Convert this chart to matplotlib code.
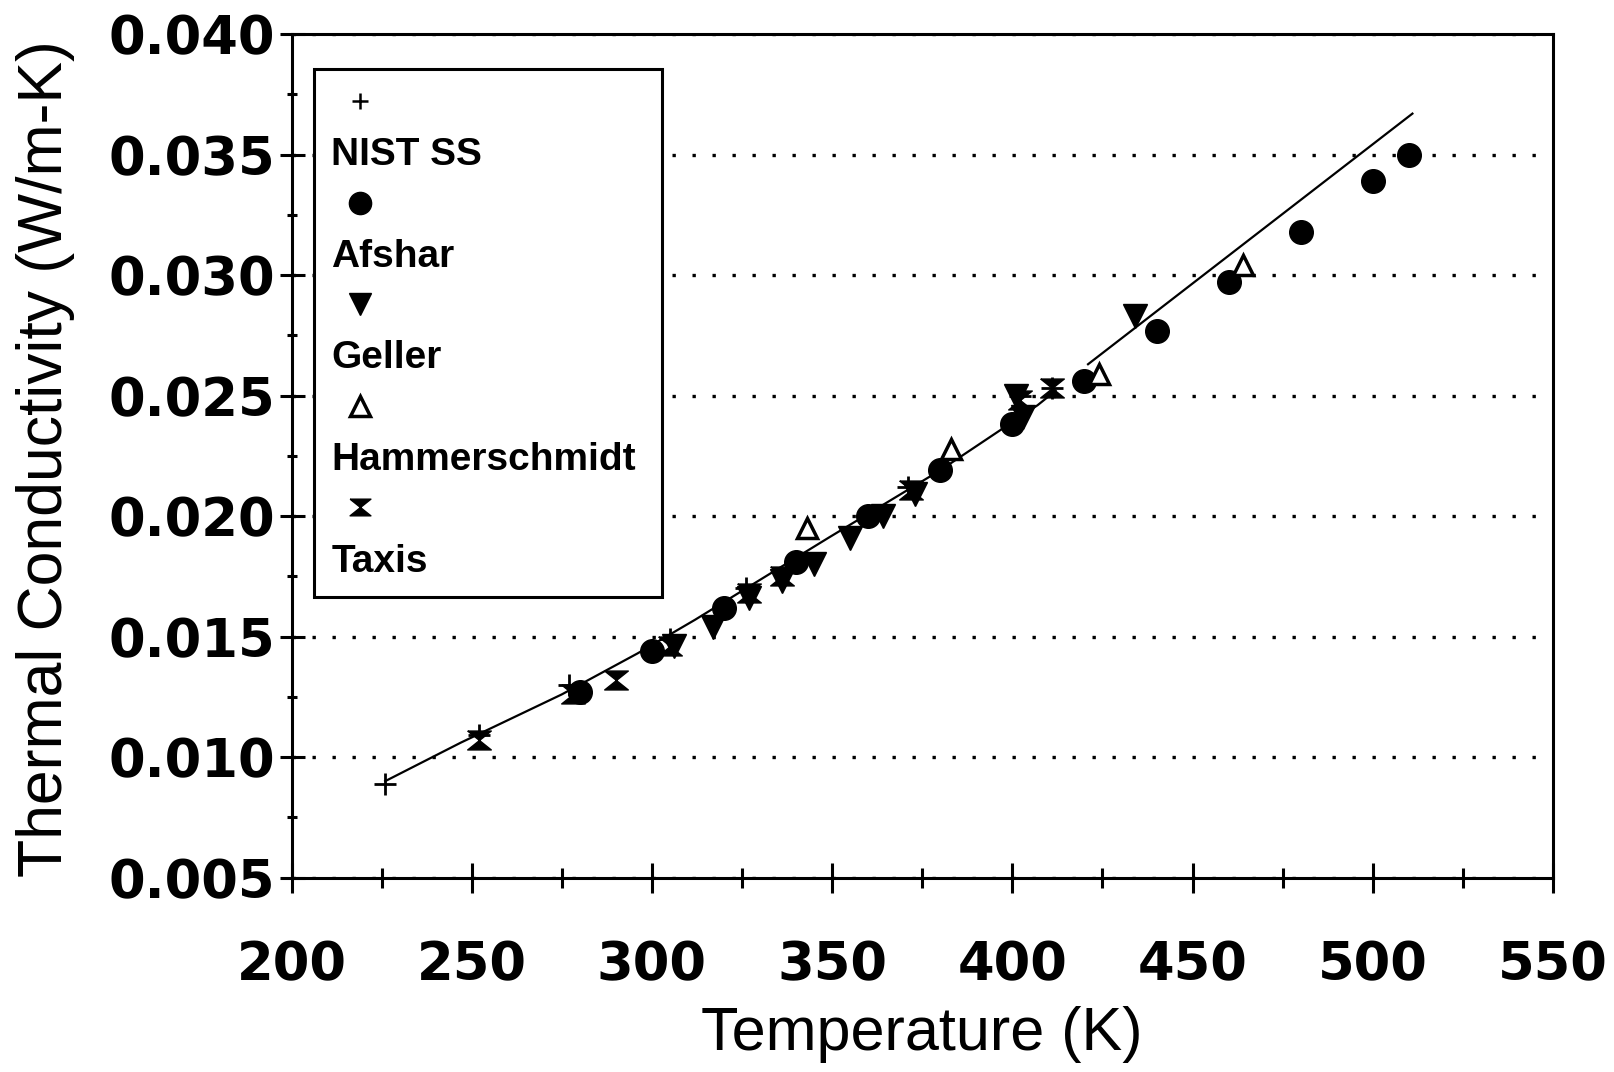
import numpy as np
import matplotlib
matplotlib.use("Agg")
import matplotlib as mpl
import matplotlib.pyplot as plt
from matplotlib.lines import Line2D
from matplotlib.ticker import MultipleLocator, FormatStrFormatter

mpl.rcParams["font.family"] = ["Liberation Sans", "DejaVu Sans"]
mpl.rcParams["axes.linewidth"] = 2.2

# NIST SS (+)
nist_T = [226, 252, 277, 305, 326, 371, 402, 411]
nist_k = [0.0089, 0.0109, 0.0130, 0.0149, 0.0170, 0.0212, 0.0250, 0.0253]

# Afshar (filled circle)
afshar_T = [280, 300, 320, 340, 360, 380, 400, 420, 440, 460, 480, 500, 510]
afshar_k = [0.0127, 0.0144, 0.0162, 0.0181, 0.0200, 0.0219, 0.0238, 0.0256,
            0.0277, 0.0297, 0.0318, 0.0339, 0.0350]

# Geller (filled down triangle)
geller_T = [306, 317, 327, 336, 345, 355, 364, 373, 401, 403, 434]
geller_k = [0.0146, 0.0154, 0.0166, 0.0173, 0.0180, 0.0191, 0.0200, 0.0209,
            0.0250, 0.0241, 0.0283]

# Hammerschmidt (open up triangle)
hammer_T = [343, 383, 424, 464]
hammer_k = [0.0195, 0.0228, 0.0259, 0.0304]

# Taxis (hourglass)
taxis_T = [252, 278, 290, 305, 327, 336, 372, 402, 411]
taxis_k = [0.0107, 0.0126, 0.0132, 0.0146, 0.0168, 0.0175, 0.0211, 0.0248, 0.0253]

# correlation curve (two pieces)
curve_T = [226, 247, 275, 296, 312, 349, 380, 407, 412, np.nan, 421, 511]
curve_k = [0.0090, 0.0106, 0.0126, 0.0143, 0.0157, 0.0191, 0.0219, 0.0246,
           0.0252, np.nan, 0.0263, 0.0367]

hourglass = [(-1, 0.8), (1, 0.8), (-1, -0.8), (1, -0.8), (-1, 0.8)]

fig = plt.figure(figsize=(16.15, 10.72), dpi=100)
ax = fig.add_axes([0.1805, 0.1814, 0.7811, 0.7868])

ax.plot(curve_T, curve_k, color="k", lw=1.6, zorder=2)
ax.plot(nist_T, nist_k, ls="none", marker="+", ms=16, mew=2, color="k", zorder=3)
ax.plot(afshar_T, afshar_k, ls="none", marker="o", ms=17, color="k", zorder=3)
ax.plot(geller_T, geller_k, ls="none", marker="v", ms=17, color="k", zorder=3)
ax.plot(hammer_T, hammer_k, ls="none", marker="^", ms=15, mfc="white", mec="k",
        mew=2.5, zorder=3)
ax.plot(taxis_T, taxis_k, ls="none", marker=hourglass, ms=17, color="k", zorder=3)

ax.set_xlim(200, 550)
ax.set_ylim(0.005, 0.040)
ax.xaxis.set_major_locator(MultipleLocator(50))
ax.xaxis.set_minor_locator(MultipleLocator(25))
ax.yaxis.set_major_locator(MultipleLocator(0.005))
ax.yaxis.set_minor_locator(MultipleLocator(0.0025))
ax.yaxis.set_major_formatter(FormatStrFormatter("%.3f"))

ax.tick_params(axis="x", which="major", direction="inout", length=21, width=2.2, pad=34)
ax.tick_params(axis="x", which="minor", direction="inout", length=14, width=2.2)
ax.tick_params(axis="y", which="major", direction="inout", length=18, width=2.2, pad=3)
ax.tick_params(axis="y", which="minor", direction="inout", length=7, width=2.2)
for lab in ax.get_xticklabels() + ax.get_yticklabels():
    lab.set_fontsize(38)
    lab.set_fontweight("bold")
    lab.set_family("DejaVu Sans")

ax.yaxis.grid(True, which="major", color="k", lw=2.4, ls=(0, (1, 5)))
ax.set_axisbelow(True)

ax.set_xlabel("Temperature (K)", fontsize=44)
ax.xaxis.label.set_va("center")
ax.xaxis.set_label_coords(0.5, -0.186)
ax.set_ylabel("Thermal Conductivity (W/m-K)", fontsize=45)
ax.yaxis.label.set_va("center")
ax.yaxis.set_label_coords(-0.195, 0.497)

# legend: marker row above each label row
blank = Line2D([], [], ls="none")
handles = [
    Line2D([], [], ls="none", marker="+", ms=12, mew=1.8, color="k"), blank,
    Line2D([], [], ls="none", marker="o", ms=16, color="k"), blank,
    Line2D([], [], ls="none", marker="v", ms=16, color="k"), blank,
    Line2D([], [], ls="none", marker="^", ms=14, mfc="white", mec="k", mew=2.5), blank,
    Line2D([], [], ls="none", marker=hourglass, ms=15, color="k"), blank,
]
labels = [" ", "NIST SS", " ", "Afshar", " ", "Geller", " ", "Hammerschmidt", " ", "Taxis"]
leg = ax.legend(handles, labels, loc="upper left",
                bbox_to_anchor=(0.0178, 0.9585 - 0.63, 0.276, 0.63),
                mode="expand", borderaxespad=0, numpoints=1,
                prop={"size": 28, "weight": "bold"},
                borderpad=0.45, labelspacing=0.38,
                handlelength=1.46, handletextpad=-1.46,
                fancybox=False, framealpha=1, edgecolor="k")
leg.get_frame().set_linewidth(2.2)

plt.savefig("out.png", dpi=100)
